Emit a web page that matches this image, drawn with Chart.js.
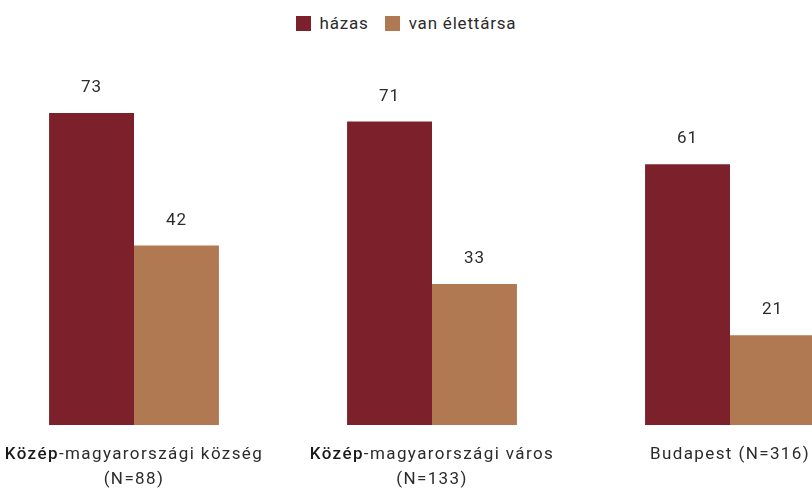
<!DOCTYPE html>
<html>
<head>
<meta charset="utf-8">
<script src="https://cdn.jsdelivr.net/npm/chart.js@4"></script>
<style>
  html, body { margin: 0; padding: 0; background: #fff; }
  body { width: 812px; height: 490px; overflow: hidden; position: relative; font-family: Roboto, "DejaVu Sans", sans-serif; }
  #legend { position: absolute; top: 13px; left: 0; width: 812px; display: flex; justify-content: center; gap: 16px; font-size: 17px; color: #2b2b2b; letter-spacing: 0.8px; }
  #legend span.item { display: flex; align-items: center; }
  #legend span.box { width: 15px; height: 15px; display: inline-block; margin-right: 9px; }
  #wrap { position: absolute; left: -15.5px; top: 0; width: 894px; height: 490px; }
</style>
</head>
<body>
<div id="legend"></div>
<div id="wrap"><canvas id="chart"></canvas></div>
<script>
// category labels: bold part, normal part, second line
const catBold = ["Közép", "Közép", ""];
const catRest = ["-magyarországi község", "-magyarországi város", "Budapest (N=316)"];
const catLine2 = ["(N=88)", "(N=133)", ""];
const seriesNames = ["házas", "van élettársa"];
const hazas = [73, 71, 61];
const elettars = [42, 33, 21];
const colors = ["#7c202b", "#b07951"];

// html legend
let legend = document.getElementById("legend");
seriesNames.forEach((name, i) => {
  let item = document.createElement("span");
  item.className = "item";
  item.innerHTML = '<span class="box" style="background:' + colors[i] + '"></span>' + name;
  legend.appendChild(item);
});

const labelFont = "17px Roboto, 'DejaVu Sans', sans-serif";
const boldFont = "500 17px Roboto, 'DejaVu Sans', sans-serif";

const valueLabels = {
  id: "valueLabels",
  afterDatasetsDraw(chart) {
    let ctx = chart.ctx;
    ctx.save();
    ctx.letterSpacing = "1px";
    ctx.font = labelFont;
    ctx.fillStyle = "#2b2b2b";
    ctx.textAlign = "center";
    ctx.textBaseline = "middle";
    chart.data.datasets.forEach((ds, di) => {
      let meta = chart.getDatasetMeta(di);
      meta.data.forEach((bar, i) => {
        ctx.fillText(ds.data[i], bar.x, bar.y - 25);
      });
    });
    ctx.restore();
  }
};

const catLabels = {
  id: "catLabels",
  afterDraw(chart) {
    let ctx = chart.ctx;
    let xScale = chart.scales.x;
    ctx.save();
    ctx.letterSpacing = "1.4px";
    ctx.textBaseline = "middle";
    ctx.textAlign = "left";
    for (let i = 0; i < catRest.length; i++) {
      let cx = xScale.getPixelForValue(i);
      ctx.font = boldFont;
      let wb = catBold[i] ? ctx.measureText(catBold[i]).width : 0;
      ctx.font = labelFont;
      let wr = ctx.measureText(catRest[i]).width;
      let x0 = cx - (wb + wr) / 2;
      if (catBold[i]) {
        ctx.font = boldFont;
        ctx.fillStyle = "#1a1a1a";
        ctx.fillText(catBold[i], x0, 455);
      }
      ctx.font = labelFont;
      ctx.fillStyle = "#2b2b2b";
      ctx.fillText(catRest[i], x0 + wb, 455);
      if (catLine2[i]) {
        ctx.textAlign = "center";
        ctx.fillText(catLine2[i], cx, 480);
        ctx.textAlign = "left";
      }
    }
    ctx.restore();
  }
};

new Chart(document.getElementById("chart"), {
  type: "bar",
  data: {
    labels: catRest,
    datasets: [
      { label: seriesNames[0], data: hazas, backgroundColor: colors[0] },
      { label: seriesNames[1], data: elettars, backgroundColor: colors[1] }
    ]
  },
  options: {
    responsive: true,
    maintainAspectRatio: false,
    animation: false,
    layout: { padding: { top: 83, bottom: 65, left: 0, right: 0 } },
    datasets: {
      bar: { barPercentage: 1, categoryPercentage: 0.57 }
    },
    scales: {
      x: { display: false },
      y: { display: false, min: 0, max: 80 }
    },
    plugins: {
      legend: { display: false },
      tooltip: { enabled: false }
    }
  },
  plugins: [valueLabels, catLabels]
});
</script>
</body>
</html>
